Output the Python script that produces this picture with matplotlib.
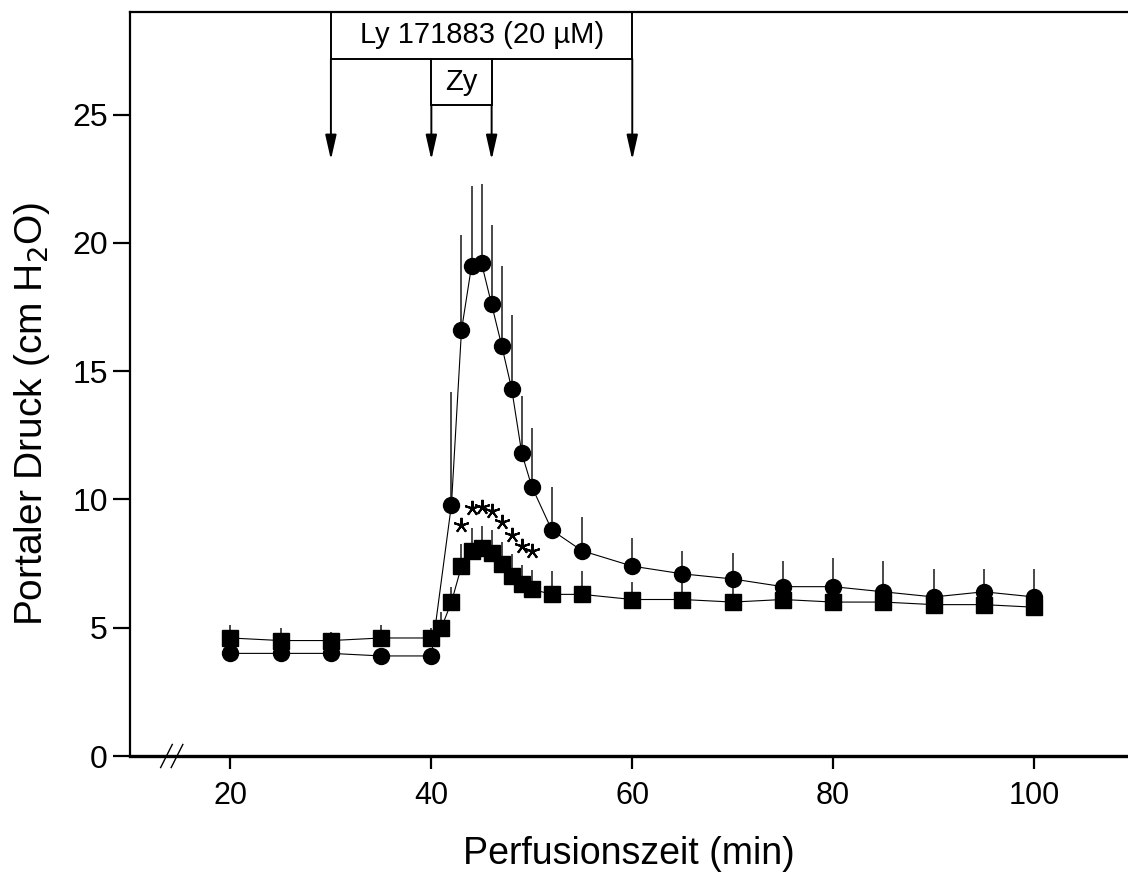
import matplotlib
matplotlib.use("Agg")
import matplotlib.pyplot as plt
from matplotlib.lines import Line2D

plt.rcParams['font.family'] = ['Liberation Sans', 'DejaVu Sans']

# Zymosan alone (circles)
t_zy = [20, 25, 30, 35, 40, 42, 43, 44, 45, 46, 47, 48, 49, 50, 52, 55,
        60, 65, 70, 75, 80, 85, 90, 95, 100]
p_zy = [4.0, 4.0, 4.0, 3.9, 3.9, 9.8, 16.6, 19.1, 19.2, 17.6, 16.0, 14.3,
        11.8, 10.5, 8.8, 8.0, 7.4, 7.1, 6.9, 6.6, 6.6, 6.4, 6.2, 6.4, 6.2]
e_zy = [0.3, 0.3, 0.3, 0.3, 0.3, 4.4, 3.7, 3.1, 3.1, 3.1, 3.1, 2.9,
        2.25, 2.3, 1.7, 1.3, 1.1, 0.9, 1.0, 1.0, 1.1, 1.2, 1.1, 0.9, 1.1]

# Ly 171883 + zymosan (squares)
t_ly = [20, 25, 30, 35, 40, 41, 42, 43, 44, 45, 46, 47, 48, 49, 50, 52, 55,
        60, 65, 70, 75, 80, 85, 90, 95, 100]
p_ly = [4.6, 4.5, 4.5, 4.6, 4.6, 5.0, 6.0, 7.4, 8.0, 8.1, 7.9, 7.5, 7.0,
        6.7, 6.5, 6.3, 6.3, 6.1, 6.1, 6.0, 6.1, 6.0, 6.0, 5.9, 5.9, 5.8]
e_ly = [0.5, 0.5, 0.35, 0.5, 0.4, 0.6, 0.6, 0.87, 0.9, 0.87, 0.89, 0.86,
        0.87, 0.75, 0.75, 0.9, 0.9, 0.7, 0.7, 0.6, 0.6, 0.6, 0.6, 0.6,
        0.6, 0.6]

# time points with significant difference
t_sig = [43, 44, 45, 46, 47, 48, 49, 50]

# treatment periods
ly_start, ly_end = 30, 60
zy_start, zy_end = 40, 46

x_ticks = [20, 40, 60, 80, 100]
y_ticks = [0, 5, 10, 15, 20, 25]

fig = plt.figure(figsize=(11.28, 8.73), dpi=100)
ax = fig.add_axes([130 / 1128, 1 - 756 / 873, 1 - 130 / 1128, (756 - 12) / 873])
ax.set_xlim(10, 109.35)
ax.set_ylim(0, 29.0)

# upper error bars
ax.errorbar(t_zy, p_zy, yerr=[[0] * len(e_zy), e_zy], fmt='none',
            ecolor='#3a3a3a', elinewidth=1.3, capsize=0, zorder=2)
ax.errorbar(t_ly, p_ly, yerr=[[0] * len(e_ly), e_ly], fmt='none',
            ecolor='#3a3a3a', elinewidth=1.3, capsize=0, zorder=2)

ax.plot(t_zy, p_zy, '-', color='black', lw=0.8, marker='o', ms=11.5,
        mfc='black', mec='black', zorder=3)
ax.plot(t_ly, p_ly, '-', color='black', lw=0.8, marker='s', ms=12,
        mfc='black', mec='black', zorder=3)

# significance stars (five-armed asterisks) above the Ly error bars
star_x = []
star_y = []
for t in t_sig:
    i = t_ly.index(t)
    star_x.append(t)
    star_y.append(p_ly[i] + e_ly[i] + 0.75)
ax.plot(star_x, star_y, linestyle='none', marker=(5, 2, 0), ms=11,
        mew=1.5, color='black', zorder=4)

# treatment boxes and arrows
y_top = 29.0
y_mid = 27.18
y_zy = 25.39
y_tip = 23.24
box_kw = dict(color='black', lw=1.4, clip_on=False, zorder=5)
ax.plot([ly_start, ly_end], [y_mid, y_mid], **box_kw)
ax.plot([ly_start, ly_start], [y_mid, y_top], **box_kw)
ax.plot([ly_end, ly_end], [y_mid, y_top], **box_kw)
ax.plot([zy_start, zy_end], [y_zy, y_zy], **box_kw)
ax.plot([zy_start, zy_start], [y_zy, y_mid], **box_kw)
ax.plot([zy_end, zy_end], [y_zy, y_mid], **box_kw)
ax.text((ly_start + ly_end) / 2, (y_top + y_mid) / 2, 'Ly 171883 (20 µM)',
        ha='center', va='center', fontsize=21)
ax.text((zy_start + zy_end) / 2, (y_mid + y_zy) / 2, 'Zy',
        ha='center', va='center', fontsize=21)

arrow_kw = dict(arrowstyle='-|>,head_length=0.75,head_width=0.17',
                color='black', lw=1.4, shrinkA=0, shrinkB=0, mutation_scale=20)
for x0, y0 in [(ly_start, y_mid), (ly_end, y_mid), (zy_start, y_zy), (zy_end, y_zy)]:
    ax.annotate('', xy=(x0, y_tip), xytext=(x0, y0), arrowprops=arrow_kw)

# axis break marks
for xc in (13.63, 14.68):
    ax.add_line(Line2D([xc - 0.58, xc + 0.58], [-0.45, 0.45], color='black',
                       lw=1.0, clip_on=False, zorder=6))

ax.spines['right'].set_visible(False)
ax.spines['left'].set_linewidth(1.6)
ax.spines['top'].set_linewidth(1.6)
ax.spines['bottom'].set_linewidth(2.4)

ax.set_xticks(x_ticks)
ax.set_yticks(y_ticks)
ax.tick_params(axis='y', direction='out', length=12, width=1.6, pad=4, labelsize=23)
ax.tick_params(axis='x', direction='out', length=9, width=1.6, pad=9, labelsize=22)

ax.set_xlabel('Perfusionszeit (min)', fontsize=27)
ax.set_ylabel('Portaler Druck (cm H$_2$O)', fontsize=28)
ax.xaxis.set_label_coords(0.5, -0.108)
ax.yaxis.set_label_coords(-0.078, 0.46)

fig.savefig('out.png', dpi=100)
